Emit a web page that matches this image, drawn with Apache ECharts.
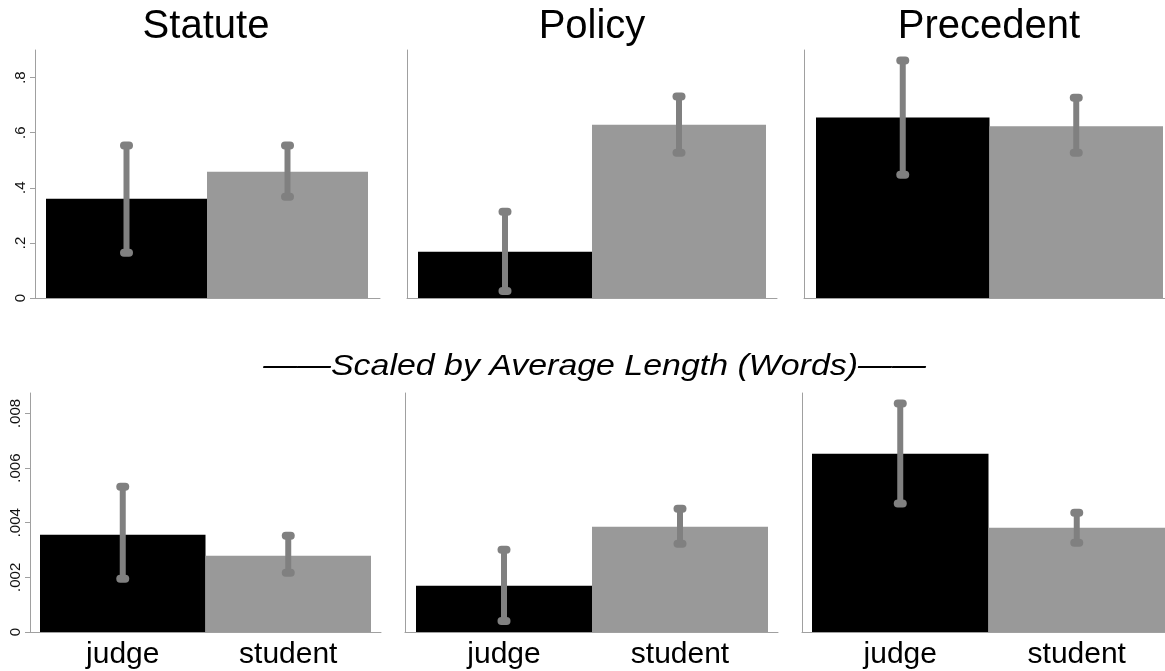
<!DOCTYPE html>
<html>
<head>
<meta charset="utf-8">
<script src="https://cdn.jsdelivr.net/npm/echarts@6/dist/echarts.min.js"></script>
<style>
  html, body { margin: 0; padding: 0; background: #fff; }
  #chart { width: 1165px; height: 671px; }
</style>
</head>
<body>
<div id="chart"></div>
<script>
// Data
const panels = ['Statute', 'Policy', 'Precedent'];
const groups = ['judge', 'student'];

// top row: share
const shareMean = [[0.36, 0.458], [0.168, 0.629], [0.655, 0.623]];
const shareLow  = [[0.164, 0.367], [0.025, 0.527], [0.447, 0.527]];
const shareHigh = [[0.553, 0.553], [0.313, 0.731], [0.862, 0.727]];
const shareTicks = [0, 0.2, 0.4, 0.6, 0.8];

// bottom row: scaled by average length
const scaledMean = [[0.00356, 0.00279], [0.00169, 0.00385], [0.00653, 0.00382]];
const scaledLow  = [[0.00195, 0.00217], [0.0004, 0.00323], [0.0047, 0.00327]];
const scaledHigh = [[0.00532, 0.00352], [0.00301, 0.00451], [0.00837, 0.00437]];
const scaledTicks = [0, 0.002, 0.004, 0.006, 0.008];

const barColors = ['#000000', '#999999'];
const errColor = '#808080';

// layout (pixels)
const rows = [
  { top: 50, height: 248, max: 0.9, ticks: shareTicks, digits: 1,
    frame: [[35, 345], [407, 370], [804, 361]],
    bars:  [[46, 322], [418, 348], [816, 347]],
    mean: shareMean, low: shareLow, high: shareHigh, showCats: false },
  { top: 393, height: 239, max: 0.00875, ticks: scaledTicks, digits: 3,
    frame: [[30, 351], [405, 373], [802, 363]],
    bars:  [[40, 331], [416, 352], [812, 353]],
    mean: scaledMean, low: scaledLow, high: scaledHigh, showCats: true }
];

const grid = [], xAxis = [], yAxis = [], series = [];

rows.forEach((row, r) => {
  for (let p = 0; p < 3; p++) {
    // frame grid: axis lines + y labels
    const fi = grid.length;
    grid.push({ left: row.frame[p][0], width: row.frame[p][1], top: row.top, height: row.height });
    xAxis.push({
      gridIndex: fi, type: 'value', min: 0, max: 1,
      axisLine: { show: true, onZero: false, lineStyle: { color: '#a0a0a0', width: 1 } },
      axisTick: { show: false }, axisLabel: { show: false }, splitLine: { show: false }
    });
    yAxis.push({
      gridIndex: fi, type: 'value', min: 0, max: row.max,
      axisLine: { show: true, lineStyle: { color: '#a0a0a0', width: 1 } },
      axisTick: { show: p === 0, length: 5, customValues: row.ticks, lineStyle: { color: '#a0a0a0' } },
      axisLabel: {
        show: p === 0, rotate: 90, fontSize: 15, color: '#111', margin: 7,
        customValues: row.ticks,
        fontFamily: 'Liberation Sans, Arial, sans-serif',
        formatter: v => v === 0 ? '0' : v.toFixed(row.digits).replace(/^0\./, '.')
      },
      splitLine: { show: false }
    });

    // bars grid
    const bi = grid.length;
    grid.push({ left: row.bars[p][0], width: row.bars[p][1], top: row.top, height: row.height });
    xAxis.push({
      gridIndex: bi, type: 'category', data: groups,
      axisLine: { show: false }, axisTick: { show: false },
      axisLabel: {
        show: row.showCats, fontSize: 30, color: '#000', margin: 8,
        fontFamily: 'Liberation Sans, Arial, sans-serif'
      }
    });
    yAxis.push({
      gridIndex: bi, type: 'value', min: 0, max: row.max, show: false
    });

    series.push({
      type: 'bar', xAxisIndex: bi, yAxisIndex: bi,
      barCategoryGap: '0%',
      data: row.mean[p].map((v, i) => ({ value: v, itemStyle: { color: barColors[i] } })),
      silent: true
    });

    series.push({
      type: 'custom', xAxisIndex: bi, yAxisIndex: bi, silent: true, z: 5,
      data: groups.map((g, i) => [i, row.low[p][i], row.high[p][i]]),
      renderItem: (params, api) => {
        const lo = api.coord([api.value(0), api.value(1)]);
        const hi = api.coord([api.value(0), api.value(2)]);
        const capW = 13, capH = 8;
        return {
          type: 'group',
          children: [
            { type: 'line', shape: { x1: lo[0], y1: lo[1], x2: hi[0], y2: hi[1] },
              style: { stroke: errColor, lineWidth: 6 } },
            { type: 'rect', shape: { x: hi[0] - capW / 2, y: hi[1] - capH / 2, width: capW, height: capH, r: 4 },
              style: { fill: errColor } },
            { type: 'rect', shape: { x: lo[0] - capW / 2, y: lo[1] - capH / 2, width: capW, height: capH, r: 4 },
              style: { fill: errColor } }
          ]
        };
      }
    });
  }
});

const titleFont = 'Liberation Sans, Arial, sans-serif';
const titleCenters = [206, 592, 989];

const option = {
  animation: false,
  backgroundColor: '#fff',
  title: panels.map((t, i) => ({
    text: t, left: titleCenters[i], top: 7, textAlign: 'center', padding: 0,
    textStyle: { fontSize: 40, fontWeight: 'normal', color: '#000', fontFamily: titleFont }
  })),
  graphic: [{
    type: 'text', x: 594.5, y: 352, scaleX: 1.13, silent: true,
    style: {
      text: '\u2014\u2014Scaled by Average Length (Words)\u2014\u2014',
      fill: '#000', font: 'italic 30px "Liberation Sans", Arial, sans-serif',
      align: 'center', verticalAlign: 'top'
    }
  }],
  grid, xAxis, yAxis, series
};

const myChart = echarts.init(document.getElementById('chart'));
myChart.setOption(option);
</script>
</body>
</html>
